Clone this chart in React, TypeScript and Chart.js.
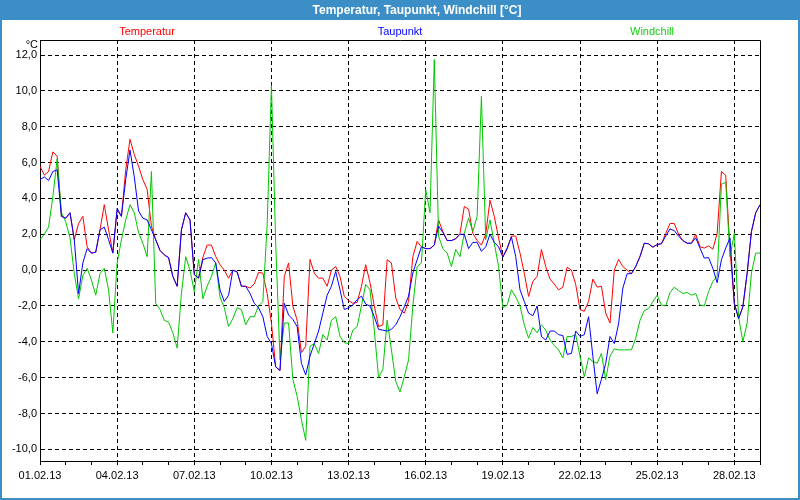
import React, { useEffect, useRef } from 'react';
import { Chart, registerables } from 'chart.js';

Chart.register(...registerables);

const TITLE = 'Temperatur, Taupunkt, Windchill [°C]';
const UNIT_LABEL = '°C';
const SERIES_NAMES = ['Temperatur', 'Taupunkt', 'Windchill'];
const SERIES_COLORS = ['#ff0000', '#0000ff', '#00c800'];
const LEGEND_COLORS = ['#ff0000', '#0000ff', '#10d010'];
// samples every 4 hours starting 01.02.13 00:00
const STEP_HOURS = 4;
const X_TICK_LABELS = ['01.02.13', '04.02.13', '07.02.13', '10.02.13', '13.02.13', '16.02.13', '19.02.13', '22.02.13', '25.02.13', '28.02.13'];
const X_DAYS_TOTAL = 28;
const X_LABEL_EVERY = 3;
const Y_MIN = -10.65;
const Y_MAX = 12.84;
const Y_STEP = 2;

const TEMPERATUR = [
  5.8, 5.3, 5.5, 6.6, 6.35, 3.0, 2.9, 3.2, 1.7, 2.6,
  3.0, 1.3, 0.95, 1.0, 2.25, 3.65, 2.25, 0.95, 3.35, 3.0,
  5.6, 7.3, 6.45, 5.8, 5.05, 4.5, 2.45, 1.7, 1.1, 0.85,
  0.7, -0.35, -0.9, 2.25, 3.2, 2.8, -0.25, -0.45, 0.7, 1.4,
  1.4, 0.76, 0.3, 0.0, -0.45, 0.0, -0.1, -0.9, -0.9, -1.0,
  -0.76, -0.13, -0.17, -1.3, -2.95, -5.4, -5.6, -0.35, 0.4, -2.0,
  -2.8, -4.6, -4.25, 0.6, -0.17, -0.45, -0.45, -0.9, 0.0, 0.2,
  -0.35, -1.47, -1.7, -1.85, -1.8, -0.9, 0.3, -0.7, -2.0, -3.15,
  -3.05, 0.58, 0.4, -1.55, -2.2, -2.4, -1.75, 0.75, 1.6, 1.3,
  1.2, 1.2, 1.4, 2.8, 2.15, 1.65, 1.65, 1.75, 2.05, 3.55,
  3.4, 2.05, 1.65, 1.4, 2.0, 3.9, 3.0, 1.8, 0.73, 1.17,
  1.9, 1.9, 0.95, -0.17, -1.47, -0.63, -0.35, 1.15, 0.2, -0.5,
  -0.78, -1.1, -0.95, 0.17, 0.0, -0.8, -2.2, -2.3, -1.75, -0.5,
  -0.95, -0.9, -2.4, -2.95, 0.0, 0.6, 0.2, 0.0, -0.2, 0.2,
  0.76, 1.5, 1.47, 1.28, 1.43, 1.47, 2.05, 2.6, 2.6, 2.0,
  1.65, 1.5, 1.5, 2.0, 1.3, 1.23, 1.35, 1.17, 2.05, 5.5,
  5.3, 1.15, -1.85, -2.7, -2.05, -0.17, 2.15, 3.2, 3.65
];

const TAUPUNKT = [
  5.05, 5.2, 5.0, 5.5, 5.6, 3.0, 2.9, 3.2, 1.7, -1.3,
  0.4, 1.2, 0.95, 1.0, 2.25, 2.4, 1.7, 0.95, 3.45, 3.0,
  5.05, 6.7, 5.2, 3.3, 2.9, 2.8, 2.25, 1.7, 1.1, 0.85,
  0.7, -0.35, -0.9, 2.25, 3.2, 2.8, -0.25, -0.45, 0.58, 0.67,
  0.7, 0.4, -1.1, -1.75, -1.4, 0.0, -0.1, -0.9, -0.9, -1.3,
  -1.85, -2.1, -2.6, -3.7, -4.1, -5.4, -5.6, -1.85, -2.5, -2.75,
  -3.15, -5.2, -5.85, -4.8, -4.1, -3.4, -2.4, -1.4, -0.9, -0.07,
  -1.1, -2.2, -2.1, -1.95, -1.65, -1.45, -1.9, -2.0, -2.6, -3.3,
  -3.35, -3.4, -3.3, -3.05, -2.6, -2.05, -1.45, -0.15, 0.58, 1.3,
  1.2, 1.2, 1.4, 2.45, 2.1, 1.65, 1.65, 1.75, 2.0, 2.0,
  1.2, 1.55, 1.55, 1.05, 1.3, 2.0, 1.55, 1.3, 0.73, 1.23,
  1.85, 0.75, -1.1, -1.75, -2.4, -2.55, -2.0, -3.7, -3.9, -3.4,
  -3.4, -3.6, -3.65, -4.7, -4.65, -3.4, -3.7, -3.6, -2.6, -4.8,
  -6.9, -6.1, -5.2, -3.7, -4.1, -3.0, -1.0, -0.2, -0.2, 0.2,
  0.76, 1.5, 1.47, 1.28, 1.43, 1.47, 1.9, 2.3, 2.2, 1.9,
  1.65, 1.5, 1.5, 1.8, 1.23, 0.67, 0.7, 0.1, -0.7, 0.58,
  1.23, 1.8, -1.85, -2.7, -2.05, -0.17, 2.15, 3.2, 3.65
];

const WINDCHILL = [
  1.7, 2.0, 2.4, 4.1, 6.2, 3.2, 2.7, 1.8, -0.2, -1.6,
  -0.3, 0.1, -0.55, -1.4, -0.2, 0.1, -1.1, -3.5, 0.4, 1.7,
  2.8, 3.65, 3.2, 2.1, 1.5, 0.75, 5.5, -1.85, -2.2, -2.8,
  -2.9, -3.5, -4.35, -1.3, 0.75, 0.0, -1.2, 0.6, -1.6, -0.9,
  -0.35, 0.4, -1.5, -2.1, -3.15, -2.7, -2.1, -2.2, -3.05, -2.6,
  -2.6, -2.0, -1.75, 2.5, 10.3, 1.5, -5.0, -2.95, -2.95, -6.1,
  -7.05, -8.35, -9.5, -4.25, -4.1, -4.65, -3.6, -3.9, -2.8, -2.6,
  -3.7, -4.05, -4.1, -3.35, -3.15, -2.0, -0.8, -1.1, -3.35, -6.0,
  -5.55, -2.8, -4.45, -6.2, -6.8, -5.95, -5.0, -2.0, 0.2, 0.4,
  4.5, 3.2, 11.75, 1.9, 1.2, 0.95, 0.2, 1.15, 0.75, 2.05,
  2.9, 2.15, 3.0, 9.7, 1.7, 2.8, 1.5, 0.2, -2.1, -1.95,
  -1.1, -1.5, -2.0, -3.05, -3.8, -3.2, -3.5, -3.05, -3.35, -3.9,
  -4.2, -4.45, -4.9, -3.7, -3.7, -3.6, -4.8, -5.95, -4.9, -5.1,
  -5.2, -4.65, -6.1, -4.8, -4.4, -4.45, -4.45, -4.45, -4.45, -3.8,
  -2.8, -2.25, -2.15, -1.75, -1.4, -1.95, -2.0, -1.25, -0.95, -1.15,
  -1.3, -1.25, -1.4, -1.3, -1.95, -2.0, -1.2, -0.63, -0.35, 4.8,
  4.9, 0.75, 2.05, -2.6, -4.0, -2.95, -0.17, 0.95, 0.95
];

const W = 800;
const H = 500;
const FRAME_BLUE = '#3b8fc6';
const FONT = '"Liberation Sans", Arial, sans-serif';

const chromePlugin = {
  id: 'chrome',
  beforeDraw(chart: any) {
    const ctx = chart.ctx;
    ctx.save();
    ctx.fillStyle = '#ffffff';
    ctx.fillRect(0, 0, W, H);
    // title bar and window frame
    ctx.fillStyle = FRAME_BLUE;
    ctx.fillRect(0, 0, W, 20);
    ctx.fillRect(0, 0, 2, H);
    ctx.fillRect(W - 2, 0, 2, H);
    ctx.fillRect(0, H - 2, W, 2);
    ctx.fillStyle = '#ffffff';
    ctx.font = 'bold 12px ' + FONT;
    ctx.textAlign = 'center';
    ctx.textBaseline = 'middle';
    ctx.fillText(TITLE, 417, 10.5);
    // legend (text only)
    ctx.font = '11px ' + FONT;
    const legendX = [147, 400, 652];
    SERIES_NAMES.forEach((n, i) => {
      ctx.fillStyle = LEGEND_COLORS[i];
      ctx.fillText(n, legendX[i], 32);
    });
    // unit label
    ctx.fillStyle = '#000';
    ctx.textAlign = 'right';
    ctx.fillText(UNIT_LABEL, 38, 45);
    ctx.restore();
  },
  afterDraw(chart: any) {
    const { ctx, chartArea } = chart;
    ctx.save();
    ctx.strokeStyle = '#000';
    ctx.lineWidth = 1;
    ctx.beginPath();
    ctx.moveTo(chartArea.left, chartArea.top + 0.5);
    ctx.lineTo(chartArea.right + 0.5, chartArea.top + 0.5);
    ctx.lineTo(chartArea.right + 0.5, chartArea.bottom);
    ctx.stroke();
    ctx.restore();
  },
};

export default function App() {
  const ref = useRef<HTMLCanvasElement | null>(null);

  useEffect(() => {
    if (!ref.current) return;
    const toPoints = (arr: number[]) => arr.map((v, i) => ({ x: (i * STEP_HOURS) / 24, y: v }));
    const lineDs = (idx: number, arr: number[]) => ({
      label: SERIES_NAMES[idx],
      data: toPoints(arr),
      borderColor: SERIES_COLORS[idx],
      backgroundColor: SERIES_COLORS[idx],
      borderWidth: 1,
      pointRadius: 0,
      tension: 0,
      fill: false,
    });
    const chart = new Chart(ref.current, {
      type: 'line',
      data: {
        // first dataset is drawn on top
        datasets: [lineDs(1, TAUPUNKT), lineDs(2, WINDCHILL), lineDs(0, TEMPERATUR)],
      },
      options: {
        responsive: false,
        animation: false,
        devicePixelRatio: 1,
        layout: { padding: { left: 0, right: 40, top: 40, bottom: 0 } },
        plugins: {
          legend: { display: false },
          title: { display: false },
          tooltip: { enabled: false },
        },
        scales: {
          x: {
            type: 'linear',
            min: 0,
            max: X_DAYS_TOTAL,
            afterFit: (s: any) => {
              s.height = 39;
            },
            ticks: {
              stepSize: 1,
              autoSkip: false,
              maxRotation: 0,
              minRotation: 0,
              includeBounds: false,
              padding: 4,
              color: '#000',
              font: { family: FONT, size: 11 },
              callback: (v: any) => {
                const d = Math.round(Number(v));
                return d % X_LABEL_EVERY === 0 ? X_TICK_LABELS[d / X_LABEL_EVERY] || '' : '';
              },
            },
            grid: {
              color: (c: any) => (c.tick && Math.round(c.tick.value) % X_LABEL_EVERY === 0 ? '#000' : 'rgba(0,0,0,0)'),
              tickColor: '#000',
              tickLength: 4,
              lineWidth: 1,
              drawTicks: true,
            },
            border: { display: true, color: '#000', width: 1, dash: [4, 3] },
          },
          y: {
            type: 'linear',
            min: Y_MIN,
            max: Y_MAX,
            afterFit: (s: any) => {
              s.width = 40;
            },
            ticks: {
              stepSize: Y_STEP,
              includeBounds: false,
              padding: 3,
              color: '#000',
              font: { family: FONT, size: 11 },
              callback: (v: any) => Number(v).toFixed(1).replace('.', ','),
            },
            grid: { color: '#000', lineWidth: 1, drawTicks: false, tickLength: 0 },
            border: { display: true, color: '#000', width: 1, dash: [4, 3] },
          },
        },
      } as any,
      plugins: [chromePlugin],
    });
    return () => chart.destroy();
  }, []);

  return (
    <div style={{ position: 'absolute', left: 0, top: 0, width: W, height: H }}>
      <canvas ref={ref} width={W} height={H} style={{ display: 'block', width: W, height: H }} />
    </div>
  );
}
